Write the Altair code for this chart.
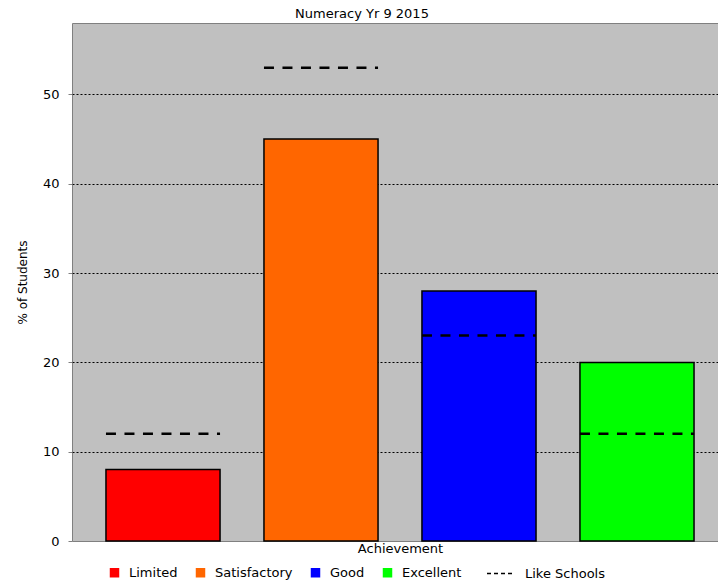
import altair as alt
import pandas as pd

# Achievement bands, this school's share of students and the like-schools benchmark
categories = ["Limited", "Satisfactory", "Good", "Excellent"]
school_pct = [8, 45, 28, 20]
like_schools_pct = [12, 53, 23, 12]
bar_colors = ["#FF0000", "#FF6600", "#0000FF", "#00FF00"]
y_ticks = [0, 10, 20, 30, 40, 50]
benchmark_label = "Like Schools"

FONT = "DejaVu Sans"

df = pd.DataFrame({
    "Achievement": categories,
    "pct": school_pct,
    "like": like_schools_pct,
    "series": [benchmark_label] * len(categories),
})

# the category range runs a little past the right edge of the view
x_scale = alt.Scale(domain=categories, range=[0, 656],
                    paddingInner=0.278, paddingOuter=0.215)
y_scale = alt.Scale(domain=[0, 58], nice=False)

x_axis = alt.Axis(
    title="Achievement", labels=False, ticks=False, domain=False, grid=False,
    titleY=1, titleBaseline="top", titleFont=FONT, titleFontSize=13,
    titleFontWeight="normal", titleColor="black",
)
y_axis = alt.Axis(
    title="% of Students", values=y_ticks, domain=False,
    tickColor="#808080", tickSize=4, tickWidth=1,
    labelFont=FONT, labelFontSize=13, labelColor="black", labelPadding=9,
    grid=True, gridColor="black", gridDash=[2, 2], gridWidth=1,
    gridOpacity={"condition": {"test": "datum.value === 0", "value": 0}, "value": 1},
    titleFont=FONT, titleFontSize=12, titleFontWeight="normal", titleColor="black",
    titleAngle=270, titleX=-46, titleY=259, titleAlign="center",
    titleBaseline="alphabetic",
)

bars = alt.Chart(df).mark_bar(stroke="black", strokeWidth=1.5).encode(
    x=alt.X("Achievement:N", sort=categories, scale=x_scale, axis=x_axis),
    y=alt.Y("pct:Q", scale=y_scale, axis=y_axis),
    color=alt.Color(
        "Achievement:N",
        scale=alt.Scale(domain=categories, range=bar_colors),
        legend=alt.Legend(
            title=None, orient="none", direction="horizontal",
            legendX=36, legendY=543, padding=0,
            symbolType="square", symbolSize=90, symbolStrokeWidth=0,
            labelFont=FONT, labelFontSize=13, labelColor="black",
            labelOffset=8, columnPadding=16,
        ),
    ),
)

like = alt.Chart(df).mark_rule(strokeWidth=2.5).encode(
    x=alt.X("Achievement:N", sort=categories, bandPosition=0),
    x2=alt.X2("Achievement", bandPosition=1),
    y=alt.Y("like:Q"),
    strokeDash=alt.value([10, 8.5]),
    stroke=alt.Stroke(
        "series:N",
        scale=alt.Scale(domain=[benchmark_label], range=["black"]),
        legend=alt.Legend(
            title=None, orient="none", direction="horizontal",
            legendX=414, legendY=536, padding=0,
            symbolType="stroke", symbolSize=729, symbolStrokeWidth=1.5,
            symbolDash=[4, 3],
            labelFont=FONT, labelFontSize=13, labelColor="black",
            labelOffset=10,
        ),
    ),
)

chart = (
    alt.layer(bars, like)
    .resolve_legend(color="independent", stroke="independent")
    .resolve_scale(color="independent", stroke="independent")
    .properties(
        width=646,
        height=518,
        autosize=alt.AutoSizeParams(type="none"),
        padding={"left": 72, "top": 23, "right": 0, "bottom": 43},
        background="white",
        title=alt.TitleParams(
            "Numeracy Yr 9 2015", font=FONT, fontSize=13, fontWeight="normal",
            color="black", anchor="middle", offset=2, dx=-33,
        ),
    )
    .configure_view(fill="#C0C0C0", stroke="#808080", strokeWidth=1)
)

chart.save("out.html", embed_options={"renderer": "svg", "actions": False})
